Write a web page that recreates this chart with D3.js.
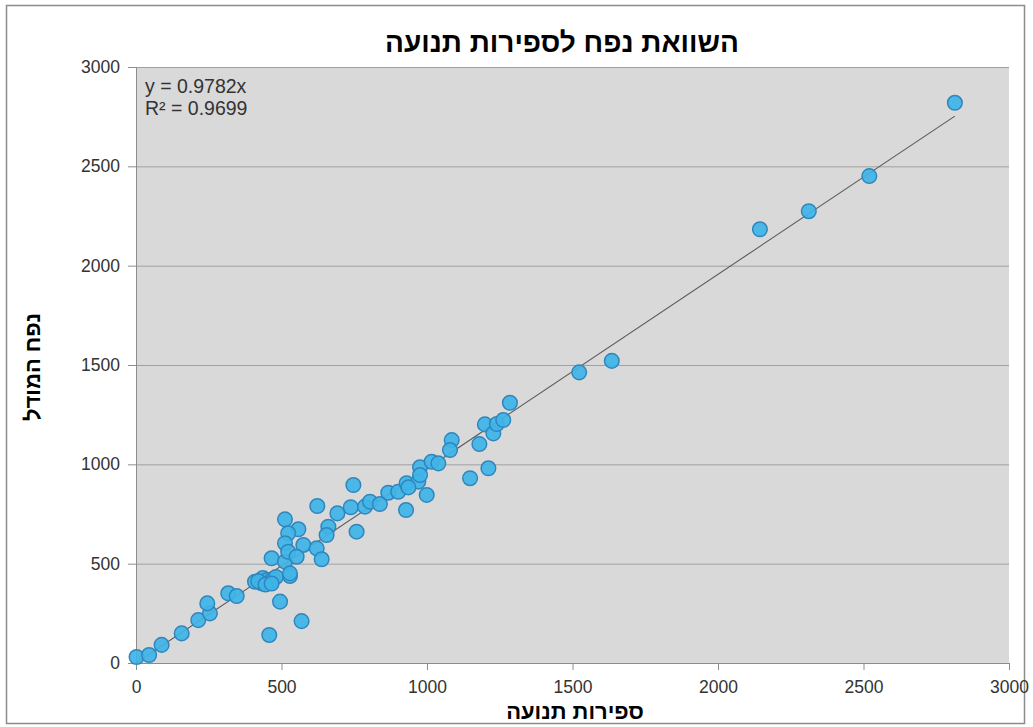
<!DOCTYPE html>
<html>
<head>
<meta charset="utf-8">
<script src="https://cdn.jsdelivr.net/npm/d3@7"></script>
<style>
    body { margin: 0; background: #ffffff; }
    svg { display: block; font-family: "Liberation Sans", Arial, sans-serif; }
</style>
</head>
<body>
<div id="chart"></div>
<script>

const chart_title = "השוואת נפח לספירות תנועה";
const x_title = "ספירות תנועה";
const y_title = "נפח המודל";
const trend_slope = 0.9782;
const trend_labels = ["y = 0.9782x", "R² = 0.9699"];

const x_ticks = [0, 500, 1000, 1500, 2000, 2500, 3000];
const y_ticks = [0, 500, 1000, 1500, 2000, 2500, 3000];

// traffic counts (x) and model volume (y)
const counts = [
    2, 45, 88, 157, 214, 254, 245, 317, 346,
    409, 432, 436, 450, 460, 471, 481, 529, 420, 445, 466,
    495, 458, 569, 466, 512, 529,
    512, 558, 523, 512, 575, 621, 523, 552, 638,
    623, 692, 738, 661, 655, 758, 787, 747,
    804, 838, 867, 901, 930, 928, 970, 976, 999, 1016, 976, 936, 1039,
    1085, 1079, 1180, 1199, 1228, 1240, 1262, 1285, 1211, 1148,
    1523, 1635, 2144, 2312, 2520, 2814
];
const model = [
    30, 40, 91, 149, 216, 250, 300, 351, 337,
    409, 401, 428, 418, 408, 423, 433, 438, 412, 395, 400,
    309, 141, 211, 527, 510, 451,
    723, 673, 653, 603, 594, 577, 560, 535, 522,
    790, 753, 784, 686, 644, 661, 787, 896,
    812, 800, 857, 862, 905, 770, 913, 985, 846, 1013, 946, 884, 1005,
    1122, 1072, 1102, 1201, 1156, 1203, 1223, 1310, 980, 930,
    1463, 1521, 2183, 2274, 2451, 2820
];

let margin = { top: 67, right: 24, bottom: 64, left: 136 },
    width = 1033 - margin.left - margin.right,
    height = 727 - margin.top - margin.bottom;

let svg = d3
    .select("#chart")
    .append("svg")
    .attr("width", 1033)
    .attr("height", 727);

// outer frame
svg.append("rect")
    .attr("x", 6.5)
    .attr("y", 5.5)
    .attr("width", 1018)
    .attr("height", 718)
    .attr("fill", "#ffffff")
    .attr("stroke", "#8c8c8c")
    .attr("stroke-width", 1.5);

let g = svg.append("g")
    .attr("transform", "translate(" + margin.left + "," + margin.top + ")");

let xScale = d3.scaleLinear().domain([0, 3000]).range([0, width]);
let yScale = d3.scaleLinear().domain([0, 3000]).range([height, 0]);

g.append("rect")
    .attr("width", width)
    .attr("height", height)
    .attr("fill", "#d9d9d9");

// gridlines
g.selectAll("line.grid")
    .data(y_ticks.filter(d => d > 0))
    .enter()
    .append("line")
    .attr("class", "grid")
    .attr("x1", 0)
    .attr("x2", width)
    .attr("y1", d => yScale(d) + 0.5)
    .attr("y2", d => yScale(d) + 0.5)
    .attr("stroke", "#a0a0a0")
    .attr("stroke-width", 1);

let xAxis = g.append("g")
    .attr("transform", "translate(0," + height + ")")
    .call(d3.axisBottom(xScale).tickValues(x_ticks).tickFormat(d3.format("d")).tickSize(7).tickPadding(8));
let yAxis = g.append("g")
    .call(d3.axisLeft(yScale).tickValues(y_ticks).tickFormat(d3.format("d")).tickSize(8).tickPadding(8));

[xAxis, yAxis].forEach(a => {
    a.select(".domain").attr("stroke", "#8c8c8c");
    a.selectAll(".tick line").attr("stroke", "#8c8c8c");
    a.selectAll(".tick text")
        .attr("fill", "#333333")
        .style("font-size", "17.5px")
        .style("font-family", "'Liberation Sans', Arial, sans-serif");
});
xAxis.selectAll(".tick text").attr("dy", "0.85em");

// trendline
const maxCount = d3.max(counts);
g.append("line")
    .attr("x1", xScale(0))
    .attr("y1", yScale(0))
    .attr("x2", xScale(maxCount))
    .attr("y2", yScale(maxCount * trend_slope))
    .attr("stroke", "#5a5a5a")
    .attr("stroke-width", 1.1);

// points
g.selectAll("circle.pt")
    .data(counts.map((c, i) => [c, model[i]]))
    .enter()
    .append("circle")
    .attr("class", "pt")
    .attr("cx", d => xScale(d[0]))
    .attr("cy", d => yScale(d[1]))
    .attr("r", 7.3)
    .attr("fill", "#3fb4e8")
    .attr("fill-opacity", 0.92)
    .attr("stroke", "#2f86bd")
    .attr("stroke-width", 1.5);

// trendline equation
g.selectAll("text.eq")
    .data(trend_labels)
    .enter()
    .append("text")
    .attr("class", "eq")
    .attr("x", 9)
    .attr("y", (d, i) => 26 + i * 22)
    .attr("fill", "#333333")
    .style("font-size", "19.5px")
    .text(d => d);

// titles
svg.append("text")
    .attr("x", 562)
    .attr("y", 52)
    .attr("text-anchor", "middle")
    .attr("font-weight", "bold")
    .style("font-size", "28px")
    .attr("fill", "#000")
    .text(chart_title);

svg.append("text")
    .attr("x", 575)
    .attr("y", 719)
    .attr("text-anchor", "middle")
    .attr("font-weight", "bold")
    .style("font-size", "22px")
    .attr("fill", "#000")
    .text(x_title);

svg.append("text")
    .attr("transform", "translate(40,367) rotate(-90)")
    .attr("text-anchor", "middle")
    .attr("font-weight", "bold")
    .style("font-size", "22px")
    .attr("fill", "#000")
    .text(y_title);
</script>
</body>
</html>
